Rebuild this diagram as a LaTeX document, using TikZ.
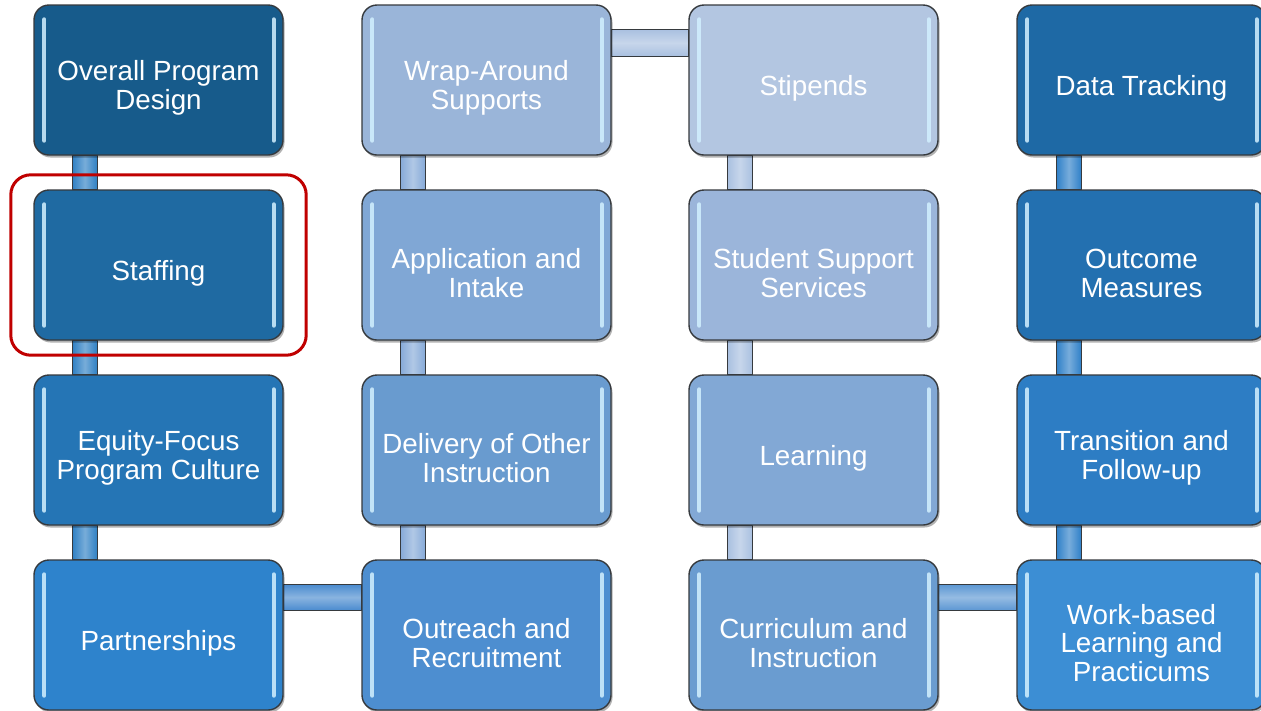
\documentclass[tikz,border=0pt]{standalone}
\usepackage{fontspec}
\setmainfont{Liberation Sans}
\usetikzlibrary{fit,shadows}
\pgfdeclarelayer{bg}
\pgfsetlayers{bg,main}
\definecolor{boxline}{HTML}{363A3E}
\definecolor{hlred}{HTML}{C00000}
\definecolor{glintc}{HTML}{D2F0FF}
\definecolor{cA1}{HTML}{175B8B}
\definecolor{cA2}{HTML}{1F6AA2}
\definecolor{cA3}{HTML}{2575B5}
\definecolor{cA4}{HTML}{2E83CC}
\definecolor{cB1}{HTML}{9AB5D9}
\definecolor{cB2}{HTML}{80A7D5}
\definecolor{cB3}{HTML}{699BCF}
\definecolor{cB4}{HTML}{4D8ED0}
\definecolor{cC1}{HTML}{B3C6E1}
\definecolor{cC2}{HTML}{9BB5DA}
\definecolor{cC3}{HTML}{82A8D5}
\definecolor{cC4}{HTML}{6A9CD0}
\definecolor{cD1}{HTML}{1E69A5}
\definecolor{cD2}{HTML}{2370B0}
\definecolor{cD3}{HTML}{2D7DC4}
\definecolor{cD4}{HTML}{3C8ED4}
\definecolor{barA}{HTML}{2F80C4}
\definecolor{barB}{HTML}{86AAD8}
\definecolor{barC}{HTML}{A9C0E0}
\definecolor{barD}{HTML}{2F80C8}
\definecolor{barH1}{HTML}{A9C0E0}
\definecolor{barH2}{HTML}{4A8BCF}
\definecolor{barH3}{HTML}{5C97D3}
\newcommand{\dn}{\rule{0pt}{36pt}}
\newcommand{\glints}[1]{%
  \draw[glint] ([xshift=11pt,yshift=-15pt]#1.north west) -- ([xshift=11pt,yshift=15pt]#1.south west);
  \draw[glint] ([xshift=-10pt,yshift=-15pt]#1.north east) -- ([xshift=-10pt,yshift=15pt]#1.south east);}
\begin{document}
\begin{tikzpicture}[x=1pt,y=-1pt,
  box/.style={draw=boxline, line width=1.4pt, rounded corners=15pt,
    minimum width=249pt, minimum height=150pt, inner sep=0pt, align=center,
    text=white, font=\fontsize{27.75}{28.5}\selectfont,
    drop shadow={shadow xshift=1.5pt, shadow yshift=-2.5pt, opacity=0.3, fill=black}},
  glint/.style={draw=glintc, opacity=0.85, line width=4pt, line cap=round},
  vbar/.style={draw=boxline, line width=1.4pt, left color=#1, right color=#1, middle color=#1!65!white},
  hbar/.style={draw=boxline, line width=1.4pt, top color=#1, bottom color=#1, middle color=#1!65!white},
  hilite/.style={draw=hlred, line width=3pt, rounded corners=20pt, inner xsep=22.5pt, inner ysep=14.5pt}]
\useasboundingbox (0,0) rectangle (1261,710);
\begin{pgfonlayer}{bg}
\fill[white] (0,0) rectangle (1261,710);
\end{pgfonlayer}
\clip (0,0) rectangle (1261,710);
% column 1
\node[box, fill=cA1] (a1) at (158.5,80) {\dn Overall Program\\Design};
\node[box, fill=cA2] (a2) at (158.5,265) {\dn Staffing};
\node[box, fill=cA3] (a3) at (158.5,450) {\dn Equity-Focus\\Program Culture};
\node[box, fill=cA4] (a4) at (158.5,635) {\dn Partnerships};
% column 2
\node[box, fill=cB1] (b1) at (486.5,80) {\dn Wrap-Around\\Supports};
\node[box, fill=cB2] (b2) at (486.5,265) {\dn Application and\\Intake};
\node[box, fill=cB3] (b3) at (486.5,450) {\dn Delivery of Other\\Instruction};
\node[box, fill=cB4] (b4) at (486.5,635) {\dn Outreach and\\Recruitment};
% column 3
\node[box, fill=cC1] (c1) at (813.5,80) {\dn Stipends};
\node[box, fill=cC2] (c2) at (813.5,265) {\dn Student Support\\Services};
\node[box, fill=cC3] (c3) at (813.5,450) {\dn Learning};
\node[box, fill=cC4] (c4) at (813.5,635) {\dn Curriculum and\\Instruction};
% column 4
\node[box, fill=cD1] (d1) at (1141.5,80) {\dn Data Tracking};
\node[box, fill=cD2] (d2) at (1141.5,265) {\dn Outcome\\Measures};
\node[box, fill=cD3] (d3) at (1141.5,450) {\dn Transition and\\Follow-up};
\node[box, fill=cD4] (d4) at (1141.5,635) {\dn Work-based\\Learning and\\Practicums};
\foreach \n in {a1,a2,a3,a4,b1,b2,b3,b4,c1,c2,c3,c4,d1,d2,d3,d4}{\glints{\n}}
% highlight
\node[hilite, fit=(a2)] (hl) {};
% connectors
\begin{pgfonlayer}{bg}
\draw[vbar=barA] ([xshift=39pt]a1.south west) rectangle ([xshift=64pt]a2.north west);
\draw[vbar=barA] ([xshift=39pt]a2.south west) rectangle ([xshift=64pt]a3.north west);
\draw[vbar=barA] ([xshift=39pt]a3.south west) rectangle ([xshift=64pt]a4.north west);
\draw[vbar=barB] ([xshift=39pt]b1.south west) rectangle ([xshift=64pt]b2.north west);
\draw[vbar=barB] ([xshift=39pt]b2.south west) rectangle ([xshift=64pt]b3.north west);
\draw[vbar=barB] ([xshift=39pt]b3.south west) rectangle ([xshift=64pt]b4.north west);
\draw[vbar=barC] ([xshift=39pt]c1.south west) rectangle ([xshift=64pt]c2.north west);
\draw[vbar=barC] ([xshift=39pt]c2.south west) rectangle ([xshift=64pt]c3.north west);
\draw[vbar=barC] ([xshift=39pt]c3.south west) rectangle ([xshift=64pt]c4.north west);
\draw[vbar=barD] ([xshift=40pt]d1.south west) rectangle ([xshift=65pt]d2.north west);
\draw[vbar=barD] ([xshift=40pt]d2.south west) rectangle ([xshift=65pt]d3.north west);
\draw[vbar=barD] ([xshift=40pt]d3.south west) rectangle ([xshift=65pt]d4.north west);
\draw[hbar=barH2] ([yshift=-25pt]a4.north east) rectangle ([yshift=-51pt]b4.north west);
\draw[hbar=barH1] ([yshift=-25pt]b1.north east) rectangle ([yshift=-52pt]c1.north west);
\draw[hbar=barH3] ([yshift=-25pt]c4.north east) rectangle ([yshift=-51pt]d4.north west);
\end{pgfonlayer}
\end{tikzpicture}
\end{document}
